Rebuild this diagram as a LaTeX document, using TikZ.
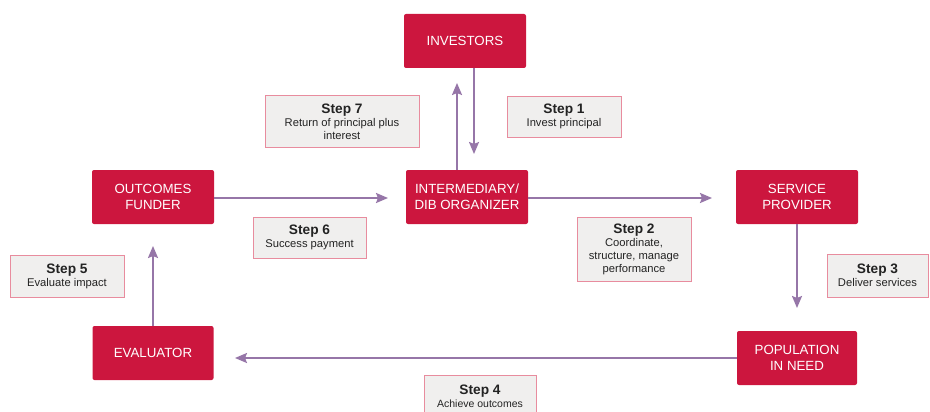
\documentclass[tikz,border=0pt]{standalone}
\usepackage{fontspec}
\setmainfont{Liberation Sans}
\usetikzlibrary{arrows.meta}
\definecolor{boxred}{RGB}{204,22,62}
\definecolor{arrowpurple}{RGB}{150,118,168}
\definecolor{stepfill}{RGB}{240,239,238}
\definecolor{stepborder}{RGB}{232,140,158}
\definecolor{steptext}{RGB}{35,35,35}
\tikzset{
  actor/.style={fill=boxred, draw=none, rounded corners=2pt, text=white, align=center,
    font=\fontsize{13.3}{16}\selectfont, inner sep=0pt},
  stepbox/.style={fill=stepfill, draw=stepborder, line width=0.9pt, align=center,
    text=steptext, inner sep=0pt, font=\fontsize{11.2}{13}\selectfont},
  flow/.style={draw=arrowpurple, line width=2pt, -{Stealth[length=12pt,width=10pt,inset=2pt]}}
}
\newcommand{\steplabel}[1]{{\fontsize{13.7}{15}\selectfont\bfseries #1}}
\begin{document}
\begin{tikzpicture}[x=1pt,y=-1pt]
\useasboundingbox (0,0) rectangle (930,412);
% actors
\node[actor, minimum width=122pt, minimum height=54pt] (inv) at (465,41) {INVESTORS};
\node[actor, minimum width=122pt, minimum height=54pt] (int) at (467,197) {INTERMEDIARY/\\DIB ORGANIZER};
\node[actor, minimum width=122pt, minimum height=54pt] (fun) at (153,197) {OUTCOMES\\FUNDER};
\node[actor, minimum width=122pt, minimum height=54pt] (srv) at (797,197) {SERVICE\\PROVIDER};
\node[actor, minimum width=121pt, minimum height=54pt] (eva) at (153,353) {EVALUATOR};
\node[actor, minimum width=120pt, minimum height=54pt] (pop) at (797,358) {POPULATION\\IN NEED};
% free arrow ends
\coordinate (t7) at (457,83);
\coordinate (t1) at (474,154);
\coordinate (t6) at (388,198);
\coordinate (t2) at (712,198);
\coordinate (t3) at (797,308);
\coordinate (t4) at (235,358);
\coordinate (t5) at (153,246);
% connectors
\draw[flow] (int.north -| t7) -- (t7);
\draw[flow] (inv.south -| t1) -- (t1);
\draw[flow] (fun.east |- t6) -- (t6);
\draw[flow] (int.east |- t2) -- (t2);
\draw[flow] (srv.south) -- (t3);
\draw[flow] (pop.west) -- (t4);
\draw[flow] (eva.north) -- (t5);
% step boxes
\node[stepbox, minimum width=154pt, minimum height=52pt] (s7) at (342,121.5)
  {\steplabel{Step 7}\\Return of principal plus\\interest};
\node[stepbox, minimum width=114pt, minimum height=41pt] (s1) at (564,116.5)
  {\steplabel{Step 1}\\Invest principal};
\node[stepbox, minimum width=113pt, minimum height=41pt] (s6) at (309.5,237.5)
  {\steplabel{Step 6}\\Success payment};
\node[stepbox, minimum width=114pt, minimum height=42pt] (s5) at (67,276)
  {\steplabel{Step 5}\\Evaluate impact};
\node[stepbox, minimum width=114pt, minimum height=64pt] (s2) at (634,249)
  {\steplabel{Step 2}\\Coordinate,\\structure, manage\\performance};
\node[stepbox, minimum width=101pt, minimum height=43pt] (s3) at (877.5,275.5)
  {\steplabel{Step 3}\\Deliver services};
\node[stepbox, minimum width=112pt, minimum height=42pt, anchor=north] (s4) at (480,375)
  {\steplabel{Step 4}\\{\fontsize{10.5}{12}\selectfont Achieve outcomes}};
\end{tikzpicture}
\end{document}
